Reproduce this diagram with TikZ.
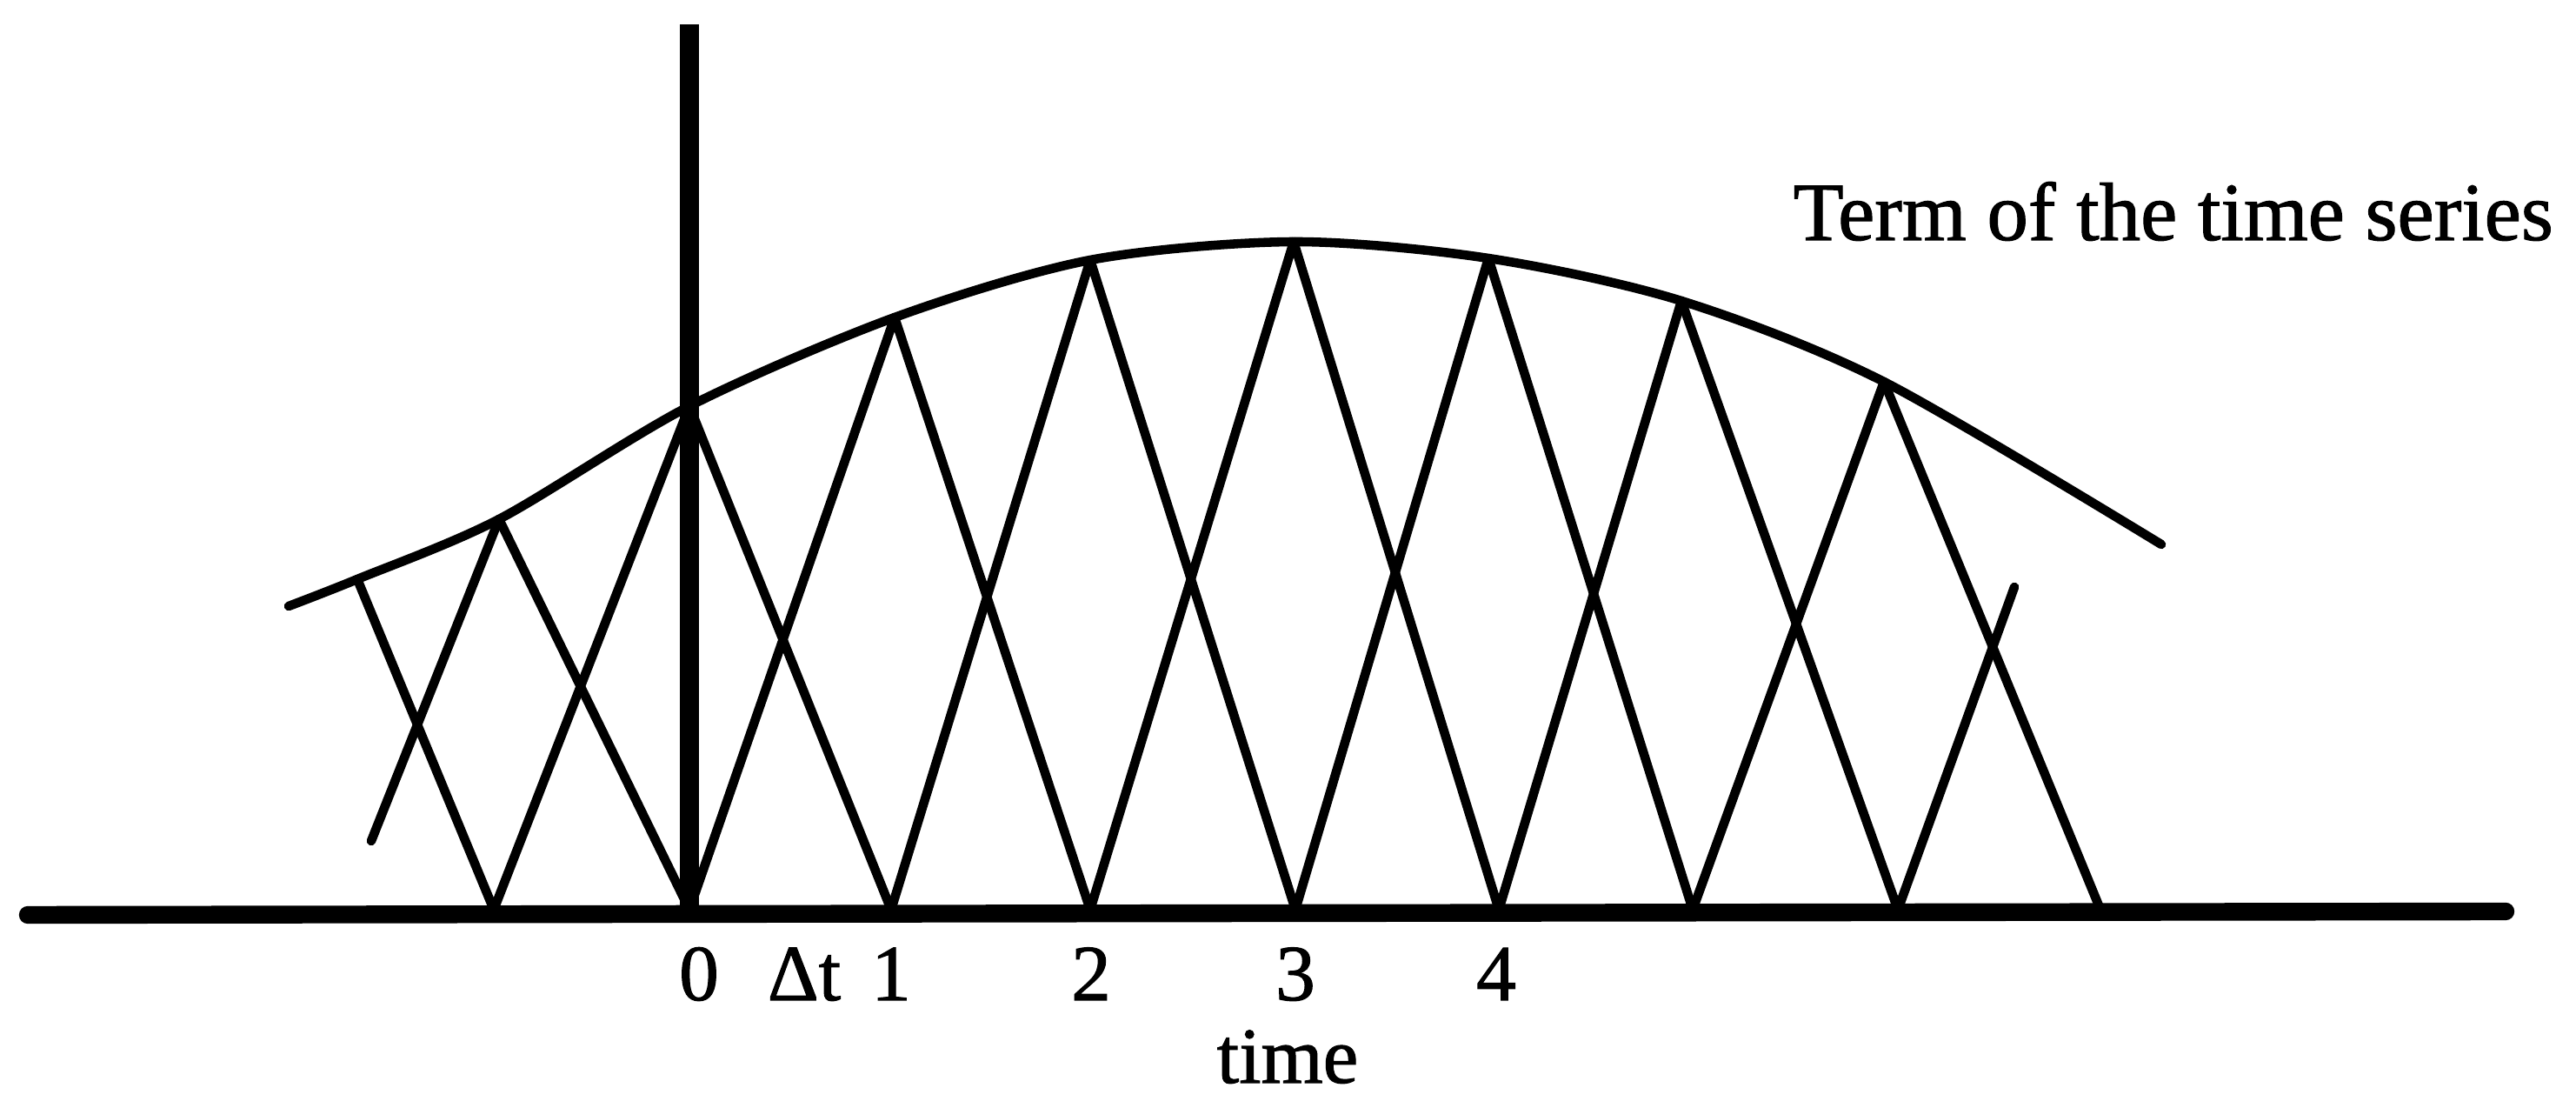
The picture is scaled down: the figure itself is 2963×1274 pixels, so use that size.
\documentclass[tikz,border=0pt]{standalone}
\usepackage{fontspec}
\setmainfont{Liberation Serif}
\newfontfamily\heavyserif[FakeBold=1.2]{Liberation Serif}
\begin{document}
\begin{tikzpicture}[x=0.01cm,y=-0.01cm,
  thin line/.style={line width=3pt,line cap=round},
  curve line/.style={line width=3pt,line cap=round},
  axis line/.style={line width=5.8pt,line cap=round},
  lbl/.style={font=\heavyserif\fontsize{26}{30}\selectfont,inner sep=0pt,anchor=base}]
\useasboundingbox (0,0) rectangle (2963,1274);
% bottoms on the time axis
\foreach \n/\x in {m1/568,0/793,1/1025,2/1254,3/1490,4/1724,5/1947,6/2183,7/2416}
  \coordinate (B\n) at (\x,1046);
% peaks on the curve
\coordinate (Pm1) at (574,597);
\coordinate (P0) at (793,467);
\coordinate (P1) at (1029,365);
\coordinate (P2) at (1254,299);
\coordinate (P3) at (1488,278);
\coordinate (P4) at (1712,297);
\coordinate (P5) at (1934,346);
\coordinate (P6) at (2167,439);
\coordinate (CL) at (332,697);
\coordinate (CA) at (411,666);
\coordinate (CR) at (2486,626);
\coordinate (TL) at (427,967);
\coordinate (TR) at (2317,675);
% axes
\coordinate (AxL) at (32,1052);
\coordinate (AxR) at (2882,1048);
\coordinate (AxT) at (793,28);
\draw[axis line] (AxL) -- (AxR);
\draw[axis line,line width=6.2pt,line cap=butt] (AxT) -- (B0);
% curve
\draw[curve line] plot[smooth,tension=0.5] coordinates
  {(CL) (CA) (Pm1) (P0) (P1) (P2) (P3) (P4) (P5) (P6) (CR)};
% tents
\draw[thin line] (CA) -- (Bm1);
\draw[thin line] (TL) -- (Pm1);
\draw[thin line] (Bm1) -- (P0);
\draw[thin line] (Pm1) -- (B0);
\draw[thin line] (B0) -- (P1);
\draw[thin line] (P0) -- (B1);
\draw[thin line] (B1) -- (P2);
\draw[thin line] (P1) -- (B2);
\draw[thin line] (B2) -- (P3);
\draw[thin line] (P2) -- (B3);
\draw[thin line] (B3) -- (P4);
\draw[thin line] (P3) -- (B4);
\draw[thin line] (B4) -- (P5);
\draw[thin line] (P4) -- (B5);
\draw[thin line] (B5) -- (P6);
\draw[thin line] (P5) -- (B6);
\draw[thin line] (B6) -- (TR);
\draw[thin line] (P6) -- (B7);
% labels
\node[lbl] (l0) at (804,1150) {0};
\node[lbl] (ldt) at (925,1150) {Δt};
\node[lbl] (l1) at (1025,1150) {1};
\node[lbl] (l2) at (1255,1150) {2};
\node[lbl] (l3) at (1490,1150) {3};
\node[lbl] (l4) at (1721,1150) {4};
\node[lbl] (ltime) at (1481,1245) {time};
\node[lbl,anchor=base west,font=\heavyserif\fontsize{27}{32}\selectfont] (lterm) at (2062,276) {Term of the time series};
\end{tikzpicture}
\end{document}
